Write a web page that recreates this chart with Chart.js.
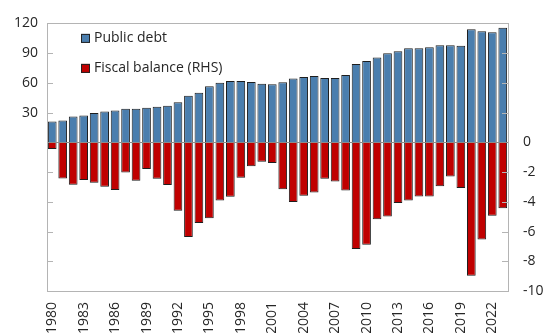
<!DOCTYPE html>
<html>
<head>
<meta charset="utf-8">
<script src="https://cdn.jsdelivr.net/npm/chart.js@4.4.1/dist/chart.umd.min.js"></script>
<style>
    html, body { margin: 0; padding: 0; background: #fff; }
    #wrap { width: 547px; height: 333px; position: relative; }
</style>
</head>
<body>
<div id="wrap"><canvas id="chart"></canvas></div>
<script>
// years on the x axis
const years = [
    '1980', '1981', '1982', '1983', '1984', '1985', '1986', '1987', '1988', '1989',
    '1990', '1991', '1992', '1993', '1994', '1995', '1996', '1997', '1998', '1999',
    '2000', '2001', '2002', '2003', '2004', '2005', '2006', '2007', '2008', '2009',
    '2010', '2011', '2012', '2013', '2014', '2015', '2016', '2017', '2018', '2019',
    '2020', '2021', '2022', '2023'
];

// public debt, % of GDP (left axis)
const publicDebt = [
    21, 22, 26, 27, 29.5, 31, 32, 34, 34, 35,
    36, 37, 40.5, 47, 50, 56.5, 60, 62, 62, 61,
    59, 58.5, 60.5, 64.5, 66, 67, 65, 65, 68, 79,
    82, 85.5, 90, 92, 95, 95, 96, 98, 98, 97.5,
    114, 112, 111, 115.5
];

// fiscal balance, % of GDP (right axis)
const fiscalBalance = [
    -0.45, -2.43, -2.85, -2.54, -2.72, -2.98, -3.2, -2.03, -2.58, -1.79,
    -2.45, -2.87, -4.61, -6.36, -5.43, -5.1, -3.91, -3.66, -2.38, -1.61,
    -1.3, -1.39, -3.16, -4.02, -3.6, -3.38, -2.45, -2.63, -3.24, -7.17,
    -6.89, -5.17, -4.99, -4.08, -3.91, -3.64, -3.64, -2.96, -2.3, -3.07,
    -8.98, -6.53, -4.94, -4.43
];

const leftTicks = [30, 60, 90, 120];
const rightTicks = [0, -2, -4, -6, -8, -10];

const blue = '#4a7eae';
const red = '#c00000';
const frame = '#b4b4b4';
const textColor = '#262626';
const fontFamily = '"Open Sans", "Noto Sans", sans-serif';

// frame, inward tick marks, zero line and legend
const decorPlugin = {
    id: 'decor',
    afterDatasetsDraw(chart) {
        const ctx = chart.ctx;
        const area = chart.chartArea;
        const y = chart.scales.y;
        const y1 = chart.scales.y1;

        ctx.save();
        // zero line
        ctx.strokeStyle = '#8c8c8c';
        ctx.lineWidth = 1;
        const zy = Math.round(y.getPixelForValue(0)) + 0.5;
        ctx.beginPath();
        ctx.moveTo(area.left, zy);
        ctx.lineTo(area.right, zy);
        ctx.stroke();

        // frame
        ctx.strokeStyle = frame;
        ctx.strokeRect(Math.round(area.left) + 0.5, Math.round(area.top) + 0.5,
            Math.round(area.right - area.left), Math.round(area.bottom - area.top));

        // tick marks on both sides
        const marks = [];
        leftTicks.slice(0, 3).forEach(v => marks.push(y.getPixelForValue(v)));
        rightTicks.slice(1, 5).forEach(v => marks.push(y1.getPixelForValue(v)));
        marks.forEach(p => {
            const py = Math.round(p) + 0.5;
            ctx.beginPath();
            ctx.moveTo(area.left, py);
            ctx.lineTo(area.left + 6, py);
            ctx.moveTo(area.right - 6, py);
            ctx.lineTo(area.right, py);
            ctx.stroke();
        });

        // legend
        const items = [
            { text: 'Public debt', color: blue },
            { text: 'Fiscal balance (RHS)', color: red }
        ];
        ctx.font = '14px ' + fontFamily;
        ctx.textBaseline = 'middle';
        items.forEach((item, i) => {
            const cy = area.top + 15 + i * 30;
            const bx = area.left + 34;
            ctx.fillStyle = item.color;
            ctx.fillRect(bx, cy - 4.5, 9, 9);
            ctx.strokeStyle = '#222';
            ctx.strokeRect(bx + 0.5, cy - 4, 8, 8);
            ctx.fillStyle = textColor;
            ctx.fillText(item.text, bx + 13, cy);
        });
        ctx.restore();
    }
};

const ctx = document.getElementById('chart').getContext('2d');

new Chart(ctx, {
    type: 'bar',
    data: {
        labels: years,
        datasets: [
            {
                label: 'Public debt',
                data: publicDebt,
                backgroundColor: blue,
                borderColor: '#1e1e1e',
                borderWidth: 1,
                yAxisID: 'y',
                grouped: false,
                barPercentage: 0.83,
                categoryPercentage: 1
            },
            {
                label: 'Fiscal balance (RHS)',
                data: fiscalBalance,
                backgroundColor: red,
                borderColor: '#1e1e1e',
                borderWidth: 1,
                yAxisID: 'y1',
                grouped: false,
                barPercentage: 0.83,
                categoryPercentage: 1
            }
        ]
    },
    options: {
        responsive: true,
        maintainAspectRatio: false,
        animation: false,
        layout: {
            padding: { top: 19, left: 0, right: 0, bottom: 0 }
        },
        plugins: {
            legend: { display: false },
            tooltip: { enabled: false },
            title: { display: false }
        },
        scales: {
            x: {
                grid: { display: false, drawTicks: false },
                border: { display: false },
                ticks: {
                    autoSkip: false,
                    maxRotation: 90,
                    minRotation: 90,
                    padding: 11,
                    color: textColor,
                    font: { family: fontFamily, size: 14 },
                    callback: (value, index) => index % 3 === 0 ? years[index] : ''
                },
                afterFit: scale => { scale.height = 42; }
            },
            y: {
                position: 'left',
                min: -150,
                max: 120,
                grid: { display: false, drawTicks: false },
                border: { display: false },
                ticks: {
                    stepSize: 30,
                    padding: 9,
                    color: textColor,
                    font: { family: fontFamily, size: 14 },
                    callback: value => leftTicks.includes(value) ? value : ''
                },
                afterFit: scale => { scale.width = 47; }
            },
            y1: {
                position: 'right',
                min: -10,
                max: 8,
                grid: { display: false, drawTicks: false },
                border: { display: false },
                ticks: {
                    stepSize: 2,
                    padding: 15,
                    color: textColor,
                    font: { family: fontFamily, size: 14 },
                    callback: value => rightTicks.includes(value) ? value : ''
                },
                afterFit: scale => { scale.width = 39; }
            }
        }
    },
    plugins: [decorPlugin]
});
</script>
</body>
</html>
